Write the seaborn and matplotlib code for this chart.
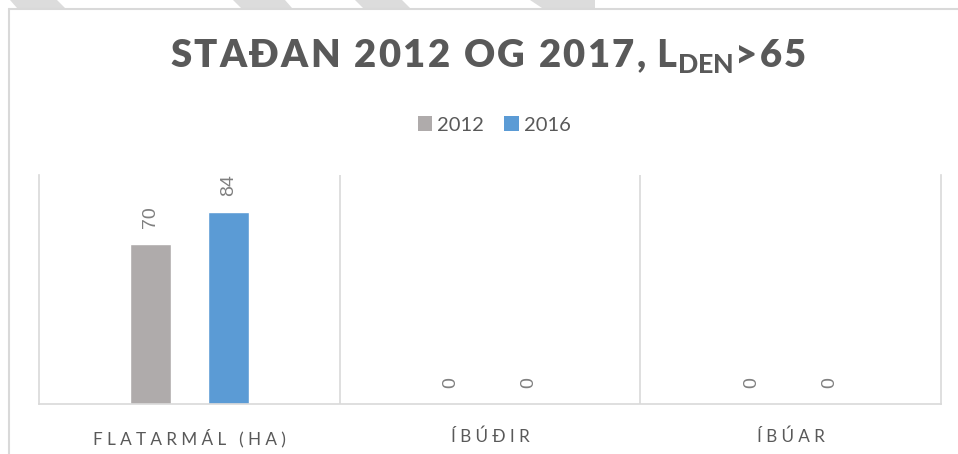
import numpy as np
import pandas as pd
import matplotlib
matplotlib.use("Agg")
import matplotlib.pyplot as plt
from matplotlib.patches import Polygon
from matplotlib.lines import Line2D
import seaborn as sns

# ---- data ----
categories = ["FLATARMÁL (HA)", "ÍBÚÐIR", "ÍBÚAR"]
years = ["2012", "2016"]
values_2012 = [70, 0, 0]
values_2016 = [84, 0, 0]
title_main = "STAÐAN 2012 OG 2017, "
title_tail = ">65"

W, H = 958, 454
sns.set_theme(style="white")
plt.rcParams["font.family"] = ["Lato", "DejaVu Sans"]
plt.rcParams["mathtext.fontset"] = "custom"
plt.rcParams["mathtext.rm"] = "Lato"
plt.rcParams["mathtext.bf"] = "Lato:black"

TXT = "#595959"
GRID = "#d9d9d9"
colors = ["#AFABAB", "#5B9BD5"]

df = pd.DataFrame({
    "cat": categories * 2,
    "year": [years[0]] * 3 + [years[1]] * 3,
    "value": values_2012 + values_2016,
})

fig = plt.figure(figsize=(W / 100, H / 100), dpi=100)
fig.patch.set_facecolor("white")

def fx(x):
    return x / W

def fy(y):
    return 1 - y / H

# decorative frame and stripes
for pts in [[(10, 0), (57, 0), (65, 8), (17, 8)],
            [(233, 0), (285, 0), (292, 8), (241, 8)],
            [(355, 0), (402, 0), (410, 8), (363, 8)],
            [(530, 0), (595, 0), (595, 8), (542, 8)]]:
    fig.add_artist(Polygon([(fx(a), fy(b)) for a, b in pts], closed=True,
                           transform=fig.transFigure, facecolor="#dcdcdc",
                           edgecolor="none"))
fig.add_artist(Line2D([fx(9), 1], [fy(8.5), fy(8.5)], transform=fig.transFigure,
                      color=GRID, lw=1.5))
fig.add_artist(Line2D([fx(9), fx(9)], [fy(8.5), 0], transform=fig.transFigure,
                      color=GRID, lw=1.5))

ax = fig.add_axes([fx(39), fy(404), fx(941) - fx(39), (404 - 175) / H])
sns.barplot(data=df, x="cat", y="value", hue="year", palette=colors,
            width=0.52, gap=0.47, ax=ax, legend=False, saturation=1)

ax.set_xlim(-0.5, 2.5)
ax.set_ylim(0, 100)
ax.set_yticks([])
ax.set_xlabel("")
ax.set_ylabel("")

spaced = ["\u2009\u2009".join(list(c)) for c in categories]
ax.set_xticks(range(len(categories)))
ax.set_xticklabels(spaced, color=TXT, fontsize=12.3,
                   family=["Lato", "DejaVu Sans"])
ax.tick_params(axis="x", length=0, pad=18)
ax.set_xticks([0.5, 1.5], minor=True)
ax.tick_params(axis="x", which="minor", length=0)
ax.grid(axis="x", which="minor", color=GRID, lw=1.2)
ax.grid(axis="x", which="major", visible=False)
ax.grid(axis="y", visible=False)
for s in ["left", "right", "bottom"]:
    ax.spines[s].set_visible(True)
    ax.spines[s].set_color(GRID)
    ax.spines[s].set_linewidth(1.2)
ax.spines["top"].set_visible(False)

for cont in ax.containers:
    ax.bar_label(cont, labels=[f"{v:g}" for v in cont.datavalues],
                 rotation=90, padding=11.5, color="#808080", fontsize=14,
                 family="Liberation Sans")

# legend
handles = [plt.Rectangle((0, 0), 1, 1, facecolor=c, edgecolor="none") for c in colors]
fig.legend(handles, years, loc="center", bbox_to_anchor=(fx(494), fy(125)),
           ncol=2, frameon=False, fontsize=14.5, handlelength=0.72,
           handleheight=0.72, handletextpad=0.25, columnspacing=1.0,
           labelcolor=TXT)

# title
title = "\u200a".join(list(title_main)) + r"$\mathbf{L}_{\mathbf{DEN}}$" + "\u200a".join(list(title_tail))
fig.text(fx(488), fy(57), title, ha="center", va="center", fontsize=27.5,
         fontweight="heavy", color=TXT)

fig.savefig("out.png", dpi=100, facecolor="white")
